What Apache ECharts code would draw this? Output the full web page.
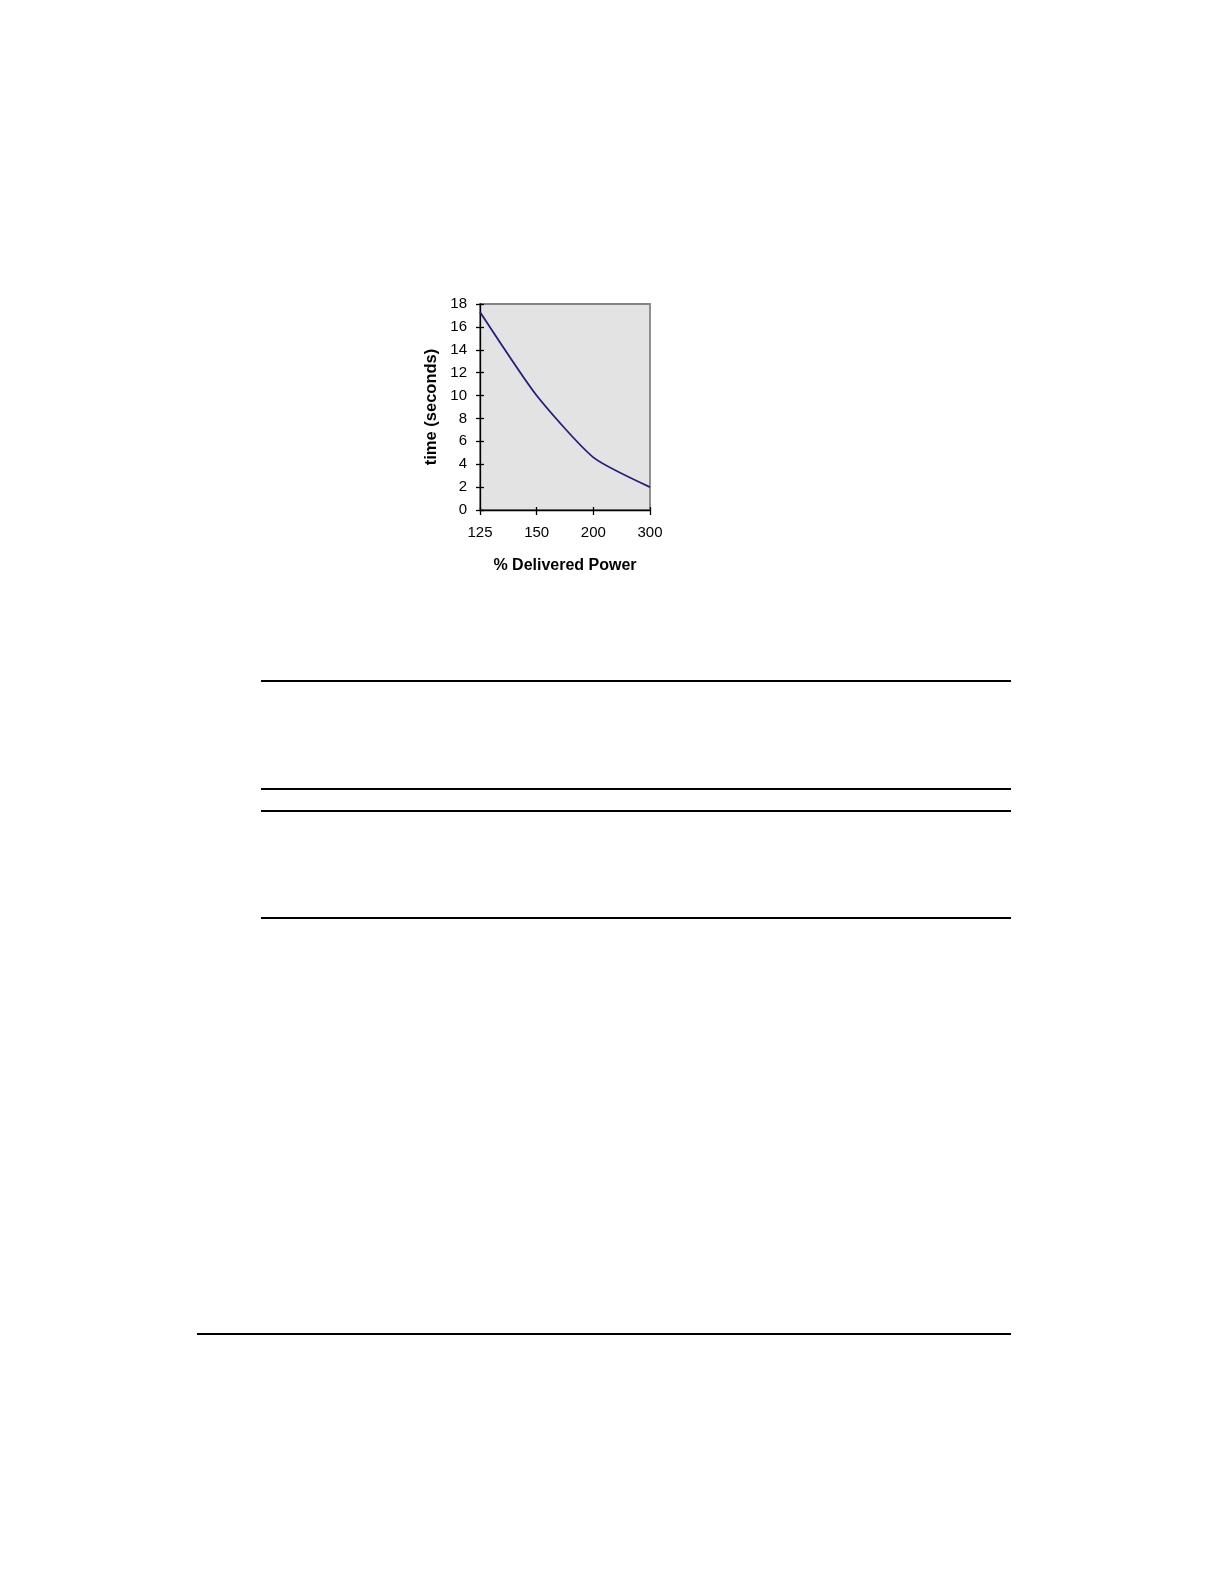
<!DOCTYPE html>
<html>
<head>
<meta charset="utf-8">
<script src="https://cdn.jsdelivr.net/npm/echarts@6/dist/echarts.min.js"></script>
<style>
html,body{margin:0;padding:0;background:#fff;}
#chart{width:1224px;height:1584px;}
</style>
</head>
<body>
<div id="chart"></div>
<script>
var categories = ['125', '150', '200', '300'];
var timeSeconds = [17.3, 10, 4.6, 2];
var yTicks = [0, 18, 2];
var xTitle = '% Delivered Power';
var yTitle = 'time (seconds)';

var chart = echarts.init(document.getElementById('chart'), null, {renderer: 'canvas'});
var font = 'Liberation Sans, Arial, sans-serif';
var option = {
  backgroundColor: '#ffffff',
  animation: false,
  grid: {left: 480, top: 304, width: 170, height: 206, show: true, backgroundColor: '#e3e3e3', borderColor: '#858585', borderWidth: 1.8},
  xAxis: [{
    type: 'category', data: categories, boundaryGap: false,
    axisLine: {lineStyle: {color: '#000', width: 1.3}},
    axisTick: {show: true, length: 5, lineStyle: {color: '#000', width: 1.3}},
    axisLabel: {color: '#000', fontSize: 15, fontFamily: font, margin: 15},
    splitLine: {show: false},
    name: xTitle, nameLocation: 'middle', nameGap: 48,
    nameTextStyle: {color: '#000', fontSize: 16, fontWeight: 'bold', fontFamily: font}
  }, {
    type: 'category', data: categories, boundaryGap: false, position: 'bottom',
    axisLine: {show: false},
    axisTick: {show: true, inside: true, length: 3, lineStyle: {color: '#000', width: 1.3}},
    axisLabel: {show: false}, splitLine: {show: false}
  }],
  yAxis: [{
    type: 'value', min: yTicks[0], max: yTicks[1], interval: yTicks[2],
    axisLine: {show: true, lineStyle: {color: '#000', width: 1.3}},
    axisTick: {show: true, length: 4, lineStyle: {color: '#000', width: 1.3}},
    axisLabel: {color: '#000', fontSize: 15, fontFamily: font, margin: 13},
    splitLine: {show: false},
    name: yTitle, nameLocation: 'middle', nameGap: 40, nameRotate: 90,
    nameTextStyle: {color: '#000', fontSize: 16.5, fontWeight: 'bold', fontFamily: font}
  }, {
    type: 'value', min: yTicks[0], max: yTicks[1], interval: yTicks[2], position: 'left',
    axisLine: {show: false},
    axisTick: {show: true, inside: true, length: 4, lineStyle: {color: '#000', width: 1.3}},
    axisLabel: {show: false}, splitLine: {show: false}
  }],
  series: [{
    type: 'line', data: timeSeconds, smooth: 0.2, symbol: 'none',
    lineStyle: {color: '#221f7c', width: 1.8}
  }],
  graphic: [
    {type: 'line', shape: {x1: 261, y1: 681, x2: 1011, y2: 681}, style: {stroke: '#000', lineWidth: 2}},
    {type: 'line', shape: {x1: 261, y1: 789, x2: 1011, y2: 789}, style: {stroke: '#000', lineWidth: 2}},
    {type: 'line', shape: {x1: 261, y1: 811, x2: 1011, y2: 811}, style: {stroke: '#000', lineWidth: 2}},
    {type: 'line', shape: {x1: 261, y1: 918, x2: 1011, y2: 918}, style: {stroke: '#000', lineWidth: 2}},
    {type: 'line', shape: {x1: 197, y1: 1334, x2: 1011, y2: 1334}, style: {stroke: '#000', lineWidth: 2}}
  ]
};
chart.setOption(option);
</script>
</body>
</html>
